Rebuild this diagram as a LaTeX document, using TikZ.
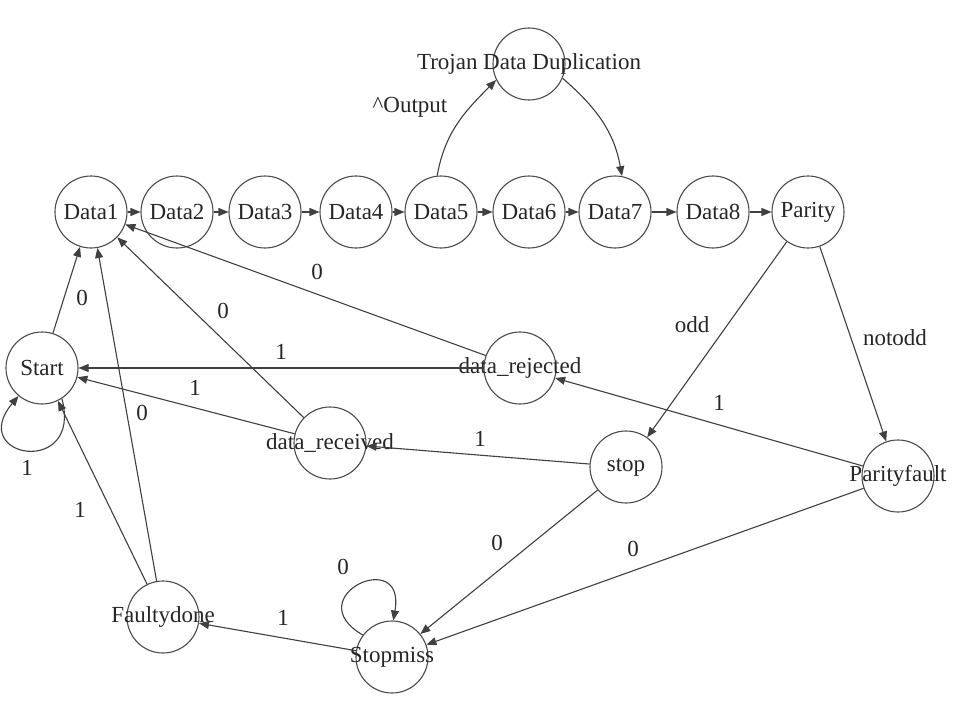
\documentclass[tikz,border=0pt]{standalone}
\usepackage{fontspec}
\setmainfont{Liberation Serif}
\usetikzlibrary{arrows.meta}
\begin{document}
\begin{tikzpicture}[x=1pt,y=1pt,
  st/.style={circle,draw=black!70,line width=1.1pt,minimum size=72pt,inner sep=0pt,
    font=\fontsize{23}{23}\selectfont,text=black!85},
  lbl/.style={inner sep=0pt,font=\fontsize{23}{23}\selectfont,text=black!85},
  tr/.style={draw=black!75,line width=1.1pt,-{Triangle[length=10pt,width=8pt]}}]
\fill[white] (0,0) rectangle (954,-701);
\useasboundingbox (0,0) rectangle (954,-701);
% states
\node[st] (Data1) at (91,-212) {\makebox[0pt]{Data1}};
\node[st] (Data2) at (177,-212) {\makebox[0pt]{Data2}};
\node[st] (Data3) at (265,-212) {\makebox[0pt]{Data3}};
\node[st] (Data4) at (356,-212) {\makebox[0pt]{Data4}};
\node[st] (Data5) at (441,-212) {\makebox[0pt]{Data5}};
\node[st] (Data6) at (529,-212) {\makebox[0pt]{Data6}};
\node[st] (Data7) at (615,-212) {\makebox[0pt]{Data7}};
\node[st] (Data8) at (713,-212) {\makebox[0pt]{Data8}};
\node[st] (Parity) at (808,-212) {\makebox[0pt]{Parity}};
\node[st] (Trojan) at (529,-64) {\makebox[0pt]{Trojan Data Duplication}};
\node[st] (Start) at (42,-368) {\makebox[0pt]{Start}};
\node[st] (drej) at (520,-368) {\makebox[0pt]{data\_rejected}};
\node[st] (drec) at (330,-443) {\makebox[0pt]{data\_received}};
\node[st] (stop) at (626,-467) {\makebox[0pt]{stop}};
\node[st] (Pfault) at (898,-476) {\makebox[0pt]{Parityfault}};
\node[st] (Fdone) at (163,-617) {\makebox[0pt]{Faultydone}};
\node[st] (Smiss) at (392,-657) {\makebox[0pt]{Stopmiss}};
% chain
\draw[tr] (Data1) -- (Data2);
\draw[tr] (Data2) -- (Data3);
\draw[tr] (Data3) -- (Data4);
\draw[tr] (Data4) -- (Data5);
\draw[tr] (Data5) -- (Data6);
\draw[tr] (Data6) -- (Data7);
\draw[tr] (Data7) -- (Data8);
\draw[tr] (Data8) -- (Parity);
\draw[tr] (Data5.96) to[out=80,in=225] (Trojan.206);
\draw[tr] (Trojan.-23) to[out=-41,in=100] (Data7.79);
% back edges
\draw[tr] (Start) -- (Data1);
\draw[tr] (Fdone) -- (Data1);
\draw[tr] (drec) -- (Data1);
\draw[tr] (drej) -- (Data1);
\draw[tr] (drej) -- (Start);
\draw[tr] (drec) -- (Start);
\draw[tr] (Start.-57) to[out=-75,in=-130,looseness=4.8] (Start.-130);
\draw[tr] (Fdone) -- (Start);
\draw[tr] (stop) -- (drec);
\draw[tr] (Pfault) -- (drej);
\draw[tr] (Parity) -- (stop);
\draw[tr] (Parity) -- (Pfault);
\draw[tr] (stop) -- (Smiss);
\draw[tr] (Pfault) -- (Smiss);
\draw[tr] (Smiss.143) to[out=150,in=80,looseness=5.75] (Smiss.88);
\draw[tr] (Smiss) -- (Fdone);
% labels
\node[lbl] (l1) at (82,-298) {0};
\node[lbl] (l2) at (142,-413) {0};
\node[lbl] (l3) at (223,-311) {0};
\node[lbl] (l4) at (317,-272) {0};
\node[lbl] (l5) at (281,-352) {1};
\node[lbl] (l6) at (195,-388) {1};
\node[lbl] (l7) at (27,-468) {1};
\node[lbl] (l8) at (80,-510) {1};
\node[lbl] (l9) at (480,-439) {1};
\node[lbl] (l10) at (719,-403) {1};
\node[lbl] (l11) at (692,-325) {odd};
\node[lbl] (l12) at (895,-338) {notodd};
\node[lbl] (l13) at (497,-543) {0};
\node[lbl] (l14) at (633,-549) {0};
\node[lbl] (l15) at (343,-567) {0};
\node[lbl] (l16) at (283,-618) {1};
\node[lbl] (l17) at (410,-107) {\textasciicircum Output};
\end{tikzpicture}
\end{document}
